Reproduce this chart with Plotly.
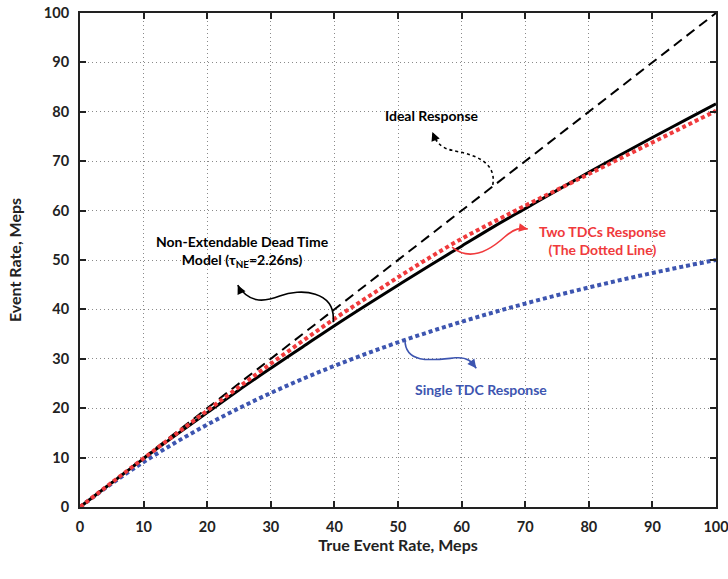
import plotly.graph_objects as go

# ---- data ----
true_rate = [0, 5, 10, 15, 20, 25, 30, 35, 40, 45, 50, 55, 60, 65, 70, 75, 80, 85, 90, 95, 100]
ideal_x = [0, 100]
ideal_y = [0, 100]
nonext_model = [0, 4.9, 9.8, 14.5, 19.1, 23.7, 28.1, 32.4, 36.7, 40.85, 44.9, 48.9, 52.8,
                 56.7, 60.4, 64.1, 67.75, 71.3, 74.8, 78.2, 81.6]
two_tdc = [0, 4.95, 9.85, 14.7, 19.5, 24.3, 29.0, 33.6, 38.1, 42.3, 46.5, 50.5, 54.3,
           57.7, 61.0, 64.2, 67.4, 70.6, 73.8, 77.0, 80.2]
single_tdc = [0, 4.76, 9.09, 13.04, 16.67, 20.0, 23.08, 25.93, 28.57, 31.03, 33.33, 35.48,
              37.5, 39.39, 41.18, 42.86, 44.44, 45.95, 47.37, 48.72, 50.0]
ticks = [0, 10, 20, 30, 40, 50, 60, 70, 80, 90, 100]

RED = "#f03a3c"
BLUE = "#3d55b0"
FONT = "Lato"

fig = go.Figure()
fig.add_trace(go.Scatter(x=ideal_x, y=ideal_y, mode="lines",
                         line=dict(color="black", width=2, dash="10px,6px")))
fig.add_trace(go.Scatter(x=true_rate, y=single_tdc, mode="lines", line_shape="spline",
                         line=dict(color=BLUE, width=4, dash="4px,3px")))
fig.add_trace(go.Scatter(x=true_rate, y=nonext_model, mode="lines", line_shape="spline",
                         line=dict(color="black", width=3)))
fig.add_trace(go.Scatter(x=true_rate, y=two_tdc, mode="lines", line_shape="spline",
                         line=dict(color=RED, width=4, dash="4px,3px")))

# curved arrows (annotation callouts)
curves = [
    ("M 64.9,65.2 C 65.6,70.5 61,71.5 58.5,72.2 C 56.5,72.8 56,74 55.4,75.9", "black", "dot", (55.4, 75.9, 55.9, 74.3)),
    ("M 39.8,37.4 C 40.3,43.9 34.6,44.3 31.4,42.7 C 28.6,41.3 26.4,41.5 24.8,44.9", "black", "solid", (24.8, 44.9, 25.4, 43.3)),
    ("M 58.5,52.6 C 61.3,49.6 64.5,52.0 66.8,54.7 C 68.4,56.5 69.2,56.5 70.4,56.3", RED, "solid", (70.4, 56.3, 69.4, 56.5)),
    ("M 51.1,33.8 C 51.1,28.7 55.8,29.8 59.0,30.2 C 61.0,30.4 61.6,29.4 62.3,28.1", BLUE, "solid", (62.3, 28.1, 61.7, 29.1)),
]
for path, col, dash, (hx, hy, tx, ty) in curves:
    fig.add_shape(type="path", path=path, xref="x", yref="y",
                  line=dict(color=col, width=1.6, dash=dash))
    fig.add_annotation(x=hx, y=hy, ax=tx, ay=ty, xref="x", yref="y", axref="x", ayref="y",
                       text="", showarrow=True, arrowhead=2, arrowsize=1.1, arrowwidth=1.6,
                       arrowcolor=col)

labels = [
    (55.35, 79.35, "Ideal Response", "black"),
    (25.6, 51.8, "Non-Extendable Dead Time<br>Model (τ<sub>NE</sub>=2.26ns)", "black"),
    (82.2, 53.85, "Two TDCs Response<br>(The Dotted Line)", RED),
    (63.05, 23.7, "Single TDC Response", BLUE),
]
for x, y, t, c in labels:
    fig.add_annotation(x=x, y=y, xref="x", yref="y", text=t, showarrow=False,
                       font=dict(family=FONT, size=14, color=c, weight="bold"),
                       align="center")

axis_common = dict(
    range=[0, 100], tickvals=ticks, ticks="inside", ticklen=6, tickwidth=2,
    tickcolor="#222", showline=True, linecolor="#222", linewidth=2, mirror="ticks",
    showgrid=True, gridcolor="#8a8a8a", gridwidth=1, griddash="1px,3px", zeroline=False,
    automargin=False, ticklabeloverflow="allow", ticklabelstandoff=6,
    tickfont=dict(family=FONT, size=14.5, color="#222", weight="bold"),
)
fig.update_xaxes(**axis_common,
                 title=dict(text="True Event Rate, Meps", standoff=2,
                            font=dict(family=FONT, size=16, color="#222", weight="bold")))
fig.update_yaxes(**axis_common,
                 title=dict(text="Event Rate, Meps", standoff=18,
                            font=dict(family=FONT, size=16, color="#222", weight="bold")))

fig.update_layout(
    width=728, height=579, showlegend=False,
    margin=dict(l=80, r=12, t=13, b=72),
    plot_bgcolor="white", paper_bgcolor="white",
    font=dict(family=FONT),
)
fig.write_html("out.html")
